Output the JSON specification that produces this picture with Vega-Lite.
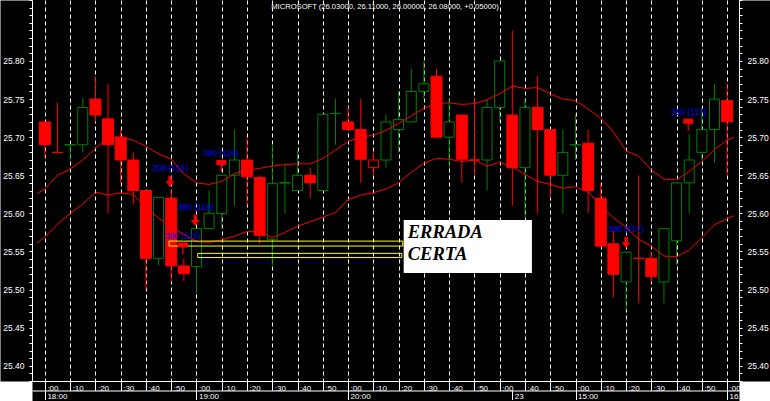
{
  "$schema": "https://vega.github.io/schema/vega-lite/v6.json",
  "width": 707,
  "height": 381,
  "autosize": {"type": "none"},
  "padding": {"left": 32, "top": 0, "right": 31, "bottom": 20},
  "background": "white",
  "config": {
    "view": {"fill": "black", "stroke": null},
    "axis": {
      "labelFont": "Liberation Sans",
      "labelColor": "white",
      "labelOverlap": false,
      "labelBound": false,
      "labelFlush": false,
      "title": null,
      "grid": false
    }
  },
  "datasets": {
    "candles": [
      {"i":0,"o":25.72,"h":25.72,"l":25.673,"c":25.69},
      {"i":1,"o":25.68,"h":25.745,"l":25.68,"c":25.68},
      {"i":2,"o":25.69,"h":25.69,"l":25.67,"c":25.69},
      {"i":3,"o":25.69,"h":25.751,"l":25.68,"c":25.739},
      {"i":4,"o":25.75,"h":25.78,"l":25.72,"c":25.729},
      {"i":5,"o":25.724,"h":25.77,"l":25.60,"c":25.69},
      {"i":6,"o":25.70,"h":25.71,"l":25.64,"c":25.67},
      {"i":7,"o":25.67,"h":25.68,"l":25.612,"c":25.63},
      {"i":8,"o":25.63,"h":25.63,"l":25.50,"c":25.541},
      {"i":9,"o":25.541,"h":25.621,"l":25.532,"c":25.621},
      {"i":10,"o":25.62,"h":25.631,"l":25.51,"c":25.531},
      {"i":11,"o":25.531,"h":25.541,"l":25.511,"c":25.521},
      {"i":12,"o":25.53,"h":25.58,"l":25.495,"c":25.58},
      {"i":13,"o":25.58,"h":25.63,"l":25.58,"c":25.60},
      {"i":14,"o":25.60,"h":25.65,"l":25.58,"c":25.65},
      {"i":15,"o":25.65,"h":25.71,"l":25.61,"c":25.67},
      {"i":16,"o":25.67,"h":25.70,"l":25.61,"c":25.648},
      {"i":17,"o":25.647,"h":25.65,"l":25.56,"c":25.571},
      {"i":18,"o":25.566,"h":25.69,"l":25.53,"c":25.639},
      {"i":19,"o":25.64,"h":25.665,"l":25.60,"c":25.64},
      {"i":20,"o":25.63,"h":25.682,"l":25.63,"c":25.65},
      {"i":21,"o":25.65,"h":25.66,"l":25.62,"c":25.64},
      {"i":22,"o":25.63,"h":25.73,"l":25.63,"c":25.73},
      {"i":23,"o":25.731,"h":25.75,"l":25.69,"c":25.731},
      {"i":24,"o":25.72,"h":25.74,"l":25.71,"c":25.71},
      {"i":25,"o":25.71,"h":25.75,"l":25.64,"c":25.671},
      {"i":26,"o":25.66,"h":25.68,"l":25.65,"c":25.67},
      {"i":27,"o":25.67,"h":25.73,"l":25.66,"c":25.72},
      {"i":28,"o":25.71,"h":25.76,"l":25.68,"c":25.723},
      {"i":29,"o":25.72,"h":25.79,"l":25.72,"c":25.76},
      {"i":30,"o":25.76,"h":25.80,"l":25.75,"c":25.77},
      {"i":31,"o":25.78,"h":25.79,"l":25.70,"c":25.70},
      {"i":32,"o":25.70,"h":25.75,"l":25.66,"c":25.72},
      {"i":33,"o":25.729,"h":25.729,"l":25.64,"c":25.671},
      {"i":34,"o":25.67,"h":25.75,"l":25.65,"c":25.67},
      {"i":35,"o":25.67,"h":25.75,"l":25.63,"c":25.739},
      {"i":36,"o":25.739,"h":25.80,"l":25.72,"c":25.80},
      {"i":37,"o":25.729,"h":25.84,"l":25.61,"c":25.66},
      {"i":38,"o":25.66,"h":25.75,"l":25.595,"c":25.739},
      {"i":39,"o":25.739,"h":25.78,"l":25.60,"c":25.71},
      {"i":40,"o":25.71,"h":25.71,"l":25.62,"c":25.65},
      {"i":41,"o":25.65,"h":25.71,"l":25.60,"c":25.68},
      {"i":42,"o":25.69,"h":25.73,"l":25.67,"c":25.69},
      {"i":43,"o":25.692,"h":25.71,"l":25.60,"c":25.63},
      {"i":44,"o":25.62,"h":25.64,"l":25.555,"c":25.557},
      {"i":45,"o":25.56,"h":25.577,"l":25.49,"c":25.52},
      {"i":46,"o":25.51,"h":25.55,"l":25.473,"c":25.549},
      {"i":47,"o":25.541,"h":25.65,"l":25.482,"c":25.541},
      {"i":48,"o":25.541,"h":25.55,"l":25.51,"c":25.517},
      {"i":49,"o":25.51,"h":25.58,"l":25.482,"c":25.58},
      {"i":50,"o":25.564,"h":25.64,"l":25.532,"c":25.64},
      {"i":51,"o":25.64,"h":25.704,"l":25.60,"c":25.67},
      {"i":52,"o":25.68,"h":25.739,"l":25.67,"c":25.71},
      {"i":53,"o":25.71,"h":25.77,"l":25.666,"c":25.75},
      {"i":54,"o":25.748,"h":25.77,"l":25.65,"c":25.72}
    ],
    "ma": [
      {"i":-0.63,"up":25.626,"lo":25.561},
      {"i":0,"up":25.632,"lo":25.569},
      {"i":1,"up":25.650,"lo":25.586},
      {"i":2,"up":25.658,"lo":25.600},
      {"i":3,"up":25.670,"lo":25.612},
      {"i":4,"up":25.685,"lo":25.628},
      {"i":5,"up":25.700,"lo":25.624},
      {"i":6,"up":25.700,"lo":25.627},
      {"i":7,"up":25.696,"lo":25.625},
      {"i":8,"up":25.688,"lo":25.607},
      {"i":9,"up":25.678,"lo":25.594},
      {"i":10,"up":25.671,"lo":25.582},
      {"i":11,"up":25.652,"lo":25.572},
      {"i":12,"up":25.640,"lo":25.563},
      {"i":13,"up":25.638,"lo":25.562},
      {"i":14,"up":25.642,"lo":25.565},
      {"i":15,"up":25.652,"lo":25.570},
      {"i":16,"up":25.657,"lo":25.576},
      {"i":17,"up":25.659,"lo":25.576},
      {"i":18,"up":25.662,"lo":25.568},
      {"i":19,"up":25.664,"lo":25.575},
      {"i":20,"up":25.665,"lo":25.583},
      {"i":21,"up":25.665,"lo":25.589},
      {"i":22,"up":25.672,"lo":25.595},
      {"i":23,"up":25.683,"lo":25.601},
      {"i":24,"up":25.694,"lo":25.618},
      {"i":25,"up":25.701,"lo":25.624},
      {"i":26,"up":25.702,"lo":25.627},
      {"i":27,"up":25.709,"lo":25.632},
      {"i":28,"up":25.718,"lo":25.640},
      {"i":29,"up":25.728,"lo":25.654},
      {"i":30,"up":25.738,"lo":25.666},
      {"i":31,"up":25.744,"lo":25.672},
      {"i":32,"up":25.745,"lo":25.671},
      {"i":33,"up":25.743,"lo":25.668},
      {"i":34,"up":25.744,"lo":25.670},
      {"i":35,"up":25.749,"lo":25.662},
      {"i":36,"up":25.757,"lo":25.667},
      {"i":37,"up":25.767,"lo":25.661},
      {"i":38,"up":25.764,"lo":25.651},
      {"i":39,"up":25.765,"lo":25.642},
      {"i":40,"up":25.757,"lo":25.638},
      {"i":41,"up":25.750,"lo":25.633},
      {"i":42,"up":25.748,"lo":25.635},
      {"i":43,"up":25.737,"lo":25.628},
      {"i":44,"up":25.725,"lo":25.611},
      {"i":45,"up":25.707,"lo":25.594},
      {"i":46,"up":25.682,"lo":25.582},
      {"i":47,"up":25.675,"lo":25.566},
      {"i":48,"up":25.657,"lo":25.557},
      {"i":49,"up":25.645,"lo":25.544},
      {"i":50,"up":25.644,"lo":25.543},
      {"i":51,"up":25.655,"lo":25.552},
      {"i":52,"up":25.668,"lo":25.568},
      {"i":53,"up":25.684,"lo":25.585},
      {"i":54,"up":25.696,"lo":25.593},
      {"i":54.55,"up":25.700,"lo":25.597}
    ],
    "notes": [
      {"i":9.91,"p":25.659,"t":"390 (115)"},
      {"i":13.93,"p":25.6787,"t":"390 (116)"},
      {"i":11.94,"p":25.6087,"t":"390 (116)"},
      {"i":10.92,"p":25.5702,"t":"390 (115)"},
      {"i":50.96,"p":25.7325,"t":"390 (117)"},
      {"i":46.0,"p":25.579,"t":"390 (117)"}
    ],
    "arrows": [
      {"i":9.91,"p":25.6417},
      {"i":11.9,"p":25.591},
      {"i":46.0,"p":25.5617}
    ],
    "flags": [
      {"i":13.97,"p":25.6669},
      {"i":10.92,"p":25.5584},
      {"i":50.92,"p":25.721}
    ],
    "boxes": [
      {"x1":9.83,"x2":28.33,"y1":25.5636,"y2":25.5571},
      {"x1":12.10,"x2":28.25,"y1":25.5475,"y2":25.542}
    ],
    "panel": [
      {"x1":28.40,"x2":38.55,"y1":25.5912,"y2":25.5217}
    ],
    "words": [
      {"i":28.72,"p":25.5676,"t":"ERRADA"},
      {"i":28.72,"p":25.5387,"t":"CERTA"}
    ],
    "head": [
      {"i":26.92,"p":25.8712,"t":"MICROSOFT (26.03000, 26.11000, 26.00000, 26.08000, +0.05000)"}
    ]
  },
  "layer": [
    {
      "data": {"name": "candles"},
      "transform": [
        {"window": [{"op": "lag", "field": "c", "as": "pc"}], "sort": [{"field": "i", "order": "ascending"}]}
      ],
      "mark": {"type": "rule", "strokeWidth": 1},
      "encoding": {
        "x": {"field": "i", "type": "quantitative",
          "scale": {"domain": [-0.624, 54.545], "nice": false, "zero": false},
          "axis": {"orient": "bottom", "values": [0,2,4,6,8,10,12,14,16,18,20,22,24,26,28,30,32,34,36,38,40,42,44,46,48,50,52,54],
            "grid": true, "gridColor": "#ffffff", "gridDash": [4,3], "gridWidth": 1,
            "domain": false, "ticks": false, "labels": false, "zindex": 0}},
        "y": {"field": "l", "type": "quantitative",
          "scale": {"domain": [25.38, 25.88], "nice": false, "zero": false},
          "axis": {"orient": "left", "offset": 16, "domain": true, "domainColor": "black", "domainWidth": 32,
            "ticks": false, "labels": false, "zindex": 0}},
        "y2": {"field": "h"},
        "color": {"condition": {"test": "datum.pc != null && datum.c >= datum.pc", "value": "#008000"}, "value": "#ff0000"}
      }
    },
    {
      "data": {"name": "candles"},
      "transform": [
        {"window": [{"op": "lag", "field": "c", "as": "pc"}], "sort": [{"field": "i", "order": "ascending"}]},
        {"filter": "datum.c <= datum.o"}
      ],
      "mark": {"type": "bar", "size": 11, "strokeWidth": 1},
      "encoding": {
        "x": {"field": "i", "type": "quantitative",
          "scale": {"domain": [-0.624, 54.545], "nice": false, "zero": false},
          "axis": {"orient": "bottom", "offset": 10, "domain": true, "domainColor": "black", "domainWidth": 20,
            "ticks": false, "labels": false, "zindex": 0}},
        "y": {"field": "o", "type": "quantitative",
          "scale": {"domain": [25.38, 25.88], "nice": false, "zero": false},
          "axis": {"orient": "right", "offset": 15.5, "domain": true, "domainColor": "black", "domainWidth": 31,
            "ticks": false, "labels": false, "zindex": 0}},
        "y2": {"field": "c"},
        "fill": {"condition": {"test": "datum.pc != null && datum.c >= datum.pc", "value": "#008000"}, "value": "#ff0000"},
        "stroke": {"condition": {"test": "datum.pc != null && datum.c >= datum.pc", "value": "#008000"}, "value": "#ff0000"}
      }
    },
    {
      "data": {"name": "candles"},
      "transform": [
        {"window": [{"op": "lag", "field": "c", "as": "pc"}], "sort": [{"field": "i", "order": "ascending"}]},
        {"filter": "datum.c > datum.o"}
      ],
      "mark": {"type": "bar", "size": 10, "fill": "black", "strokeWidth": 1},
      "encoding": {
        "x": {"field": "i", "type": "quantitative",
          "scale": {"domain": [-0.624, 54.545], "nice": false, "zero": false},
          "axis": {"orient": "bottom", "values": [0,2,4,6,8,10,12,14,16,18,20,22,24,26,28,30,32,34,36,38,40,42,44,46,48,50,52,54],
            "domain": true, "domainColor": "white", "domainWidth": 1,
            "ticks": true, "tickColor": "white", "tickSize": 9.5, "tickWidth": 1,
            "labels": true, "labelFontSize": 8, "labelAlign": "left", "labelBaseline": "top",
            "labelOffset": 2, "labelPadding": -6,
            "labelExpr": "':' + ((datum.value <= 36 ? datum.value*5 : datum.value*5 - 150) % 60 == 0 ? '00' : '' + ((datum.value <= 36 ? datum.value*5 : datum.value*5 - 150) % 60))",
            "zindex": 1}},
        "y": {"field": "o", "type": "quantitative",
          "scale": {"domain": [25.38, 25.88], "nice": false, "zero": false},
          "axis": {"orient": "left", "values": [25.38,25.39,25.40,25.41,25.42,25.43,25.44,25.45,25.46,25.47,25.48,25.49,25.50,25.51,25.52,25.53,25.54,25.55,25.56,25.57,25.58,25.59,25.60,25.61,25.62,25.63,25.64,25.65,25.66,25.67,25.68,25.69,25.70,25.71,25.72,25.73,25.74,25.75,25.76,25.77,25.78,25.79,25.80,25.81,25.82,25.83,25.84,25.85,25.86,25.87,25.88],
            "domain": true, "domainColor": "white", "domainWidth": 1,
            "ticks": true, "tickColor": "white", "tickSize": 3, "tickWidth": 1,
            "labels": true, "labelFontSize": 8.5, "labelPadding": 5,
            "labelExpr": "abs(datum.value*20 - round(datum.value*20)) < 0.01 && datum.value > 25.395 && datum.value < 25.805 ? format(datum.value, '.2f') : ''",
            "zindex": 1}},
        "y2": {"field": "c"},
        "stroke": {"condition": {"test": "datum.pc != null && datum.c >= datum.pc", "value": "#008000"}, "value": "#ff0000"}
      }
    },
    {
      "data": {"name": "ma"},
      "mark": {"type": "line", "color": "#ff0000", "strokeWidth": 1, "clip": true},
      "encoding": {
        "x": {"field": "i", "type": "quantitative",
          "scale": {"domain": [-0.624, 54.545], "nice": false, "zero": false},
          "axis": {"orient": "bottom", "offset": 9.5, "values": [0,12,24,37,42,54],
            "domain": true, "domainColor": "white", "domainWidth": 1,
            "ticks": true, "tickColor": "white", "tickSize": 9, "tickWidth": 1,
            "labels": true, "labelFontSize": 8, "labelAlign": "left", "labelBaseline": "top",
            "labelOffset": 2, "labelPadding": -7,
            "labelExpr": "datum.value == 0 ? '18:00' : datum.value == 12 ? '19:00' : datum.value == 24 ? '20:00' : datum.value == 37 ? '23' : datum.value == 42 ? '15:00' : '16:00'",
            "zindex": 1}},
        "y": {"field": "up", "type": "quantitative",
          "scale": {"domain": [25.38, 25.88], "nice": false, "zero": false},
          "axis": {"orient": "right", "values": [25.38,25.39,25.40,25.41,25.42,25.43,25.44,25.45,25.46,25.47,25.48,25.49,25.50,25.51,25.52,25.53,25.54,25.55,25.56,25.57,25.58,25.59,25.60,25.61,25.62,25.63,25.64,25.65,25.66,25.67,25.68,25.69,25.70,25.71,25.72,25.73,25.74,25.75,25.76,25.77,25.78,25.79,25.80,25.81,25.82,25.83,25.84,25.85,25.86,25.87,25.88],
            "domain": true, "domainColor": "white", "domainWidth": 1,
            "ticks": true, "tickColor": "white", "tickSize": 3, "tickWidth": 1,
            "labels": true, "labelFontSize": 8.5, "labelPadding": 5,
            "labelExpr": "abs(datum.value*20 - round(datum.value*20)) < 0.01 && datum.value > 25.395 && datum.value < 25.805 ? format(datum.value, '.2f') : ''",
            "zindex": 1}}
      }
    },
    {
      "data": {"name": "ma"},
      "mark": {"type": "line", "color": "#ff0000", "strokeWidth": 1, "clip": true},
      "encoding": {
        "x": {"field": "i", "type": "quantitative", "scale": {"domain": [-0.624, 54.545], "nice": false, "zero": false}, "axis": null},
        "y": {"field": "lo", "type": "quantitative", "scale": {"domain": [25.38, 25.88], "nice": false, "zero": false}, "axis": null}
      }
    },
    {
      "data": {"name": "boxes"},
      "mark": {"type": "rect", "filled": false, "color": "#ffff00", "strokeWidth": 1},
      "encoding": {
        "x": {"field": "x1", "type": "quantitative", "scale": {"domain": [-0.624, 54.545], "nice": false, "zero": false}, "axis": null},
        "x2": {"field": "x2"},
        "y": {"field": "y1", "type": "quantitative", "scale": {"domain": [25.38, 25.88], "nice": false, "zero": false}, "axis": null},
        "y2": {"field": "y2"}
      }
    },
    {
      "data": {"name": "panel"},
      "mark": {"type": "rect", "color": "white"},
      "encoding": {
        "x": {"field": "x1", "type": "quantitative", "scale": {"domain": [-0.624, 54.545], "nice": false, "zero": false}, "axis": null},
        "x2": {"field": "x2"},
        "y": {"field": "y1", "type": "quantitative", "scale": {"domain": [25.38, 25.88], "nice": false, "zero": false}, "axis": null},
        "y2": {"field": "y2"}
      }
    },
    {
      "data": {"name": "words"},
      "mark": {"type": "text", "color": "black", "font": "Liberation Serif", "fontSize": 18.5, "fontWeight": "bold", "fontStyle": "italic", "align": "left", "baseline": "alphabetic"},
      "encoding": {
        "x": {"field": "i", "type": "quantitative", "scale": {"domain": [-0.624, 54.545], "nice": false, "zero": false}, "axis": null},
        "y": {"field": "p", "type": "quantitative", "scale": {"domain": [25.38, 25.88], "nice": false, "zero": false}, "axis": null},
        "text": {"field": "t"}
      }
    },
    {
      "data": {"name": "notes"},
      "mark": {"type": "text", "color": "#0000ff", "font": "Liberation Sans", "fontSize": 8.5, "align": "center", "baseline": "middle"},
      "encoding": {
        "x": {"field": "i", "type": "quantitative", "scale": {"domain": [-0.624, 54.545], "nice": false, "zero": false}, "axis": null},
        "y": {"field": "p", "type": "quantitative", "scale": {"domain": [25.38, 25.88], "nice": false, "zero": false}, "axis": null},
        "text": {"field": "t"}
      }
    },
    {
      "data": {"name": "arrows"},
      "mark": {"type": "point", "shape": "M-0.3,-1L0.3,-1L0.3,-0.05L0.82,-0.05L0,1L-0.82,-0.05L-0.3,-0.05Z", "size": 121, "filled": true, "color": "#ff0000", "opacity": 1},
      "encoding": {
        "x": {"field": "i", "type": "quantitative", "scale": {"domain": [-0.624, 54.545], "nice": false, "zero": false}, "axis": null},
        "y": {"field": "p", "type": "quantitative", "scale": {"domain": [25.38, 25.88], "nice": false, "zero": false}, "axis": null}
      }
    },
    {
      "data": {"name": "flags"},
      "mark": {"type": "point", "shape": "M-1,-0.5L1,-0.5L1,0.5L0.12,0.5L0.12,1.9L-0.12,1.9L-0.12,0.5L-1,0.5Z", "size": 100, "filled": true, "color": "#ff0000", "opacity": 1},
      "encoding": {
        "x": {"field": "i", "type": "quantitative", "scale": {"domain": [-0.624, 54.545], "nice": false, "zero": false}, "axis": null},
        "y": {"field": "p", "type": "quantitative", "scale": {"domain": [25.38, 25.88], "nice": false, "zero": false}, "axis": null}
      }
    },
    {
      "data": {"name": "head"},
      "mark": {"type": "text", "color": "white", "font": "Liberation Sans", "fontSize": 7.6, "align": "center", "baseline": "middle"},
      "encoding": {
        "x": {"field": "i", "type": "quantitative", "scale": {"domain": [-0.624, 54.545], "nice": false, "zero": false}, "axis": null},
        "y": {"field": "p", "type": "quantitative", "scale": {"domain": [25.38, 25.88], "nice": false, "zero": false}, "axis": null},
        "text": {"field": "t"}
      }
    }
  ],
  "resolve": {"axis": {"x": "independent", "y": "independent"}}
}
